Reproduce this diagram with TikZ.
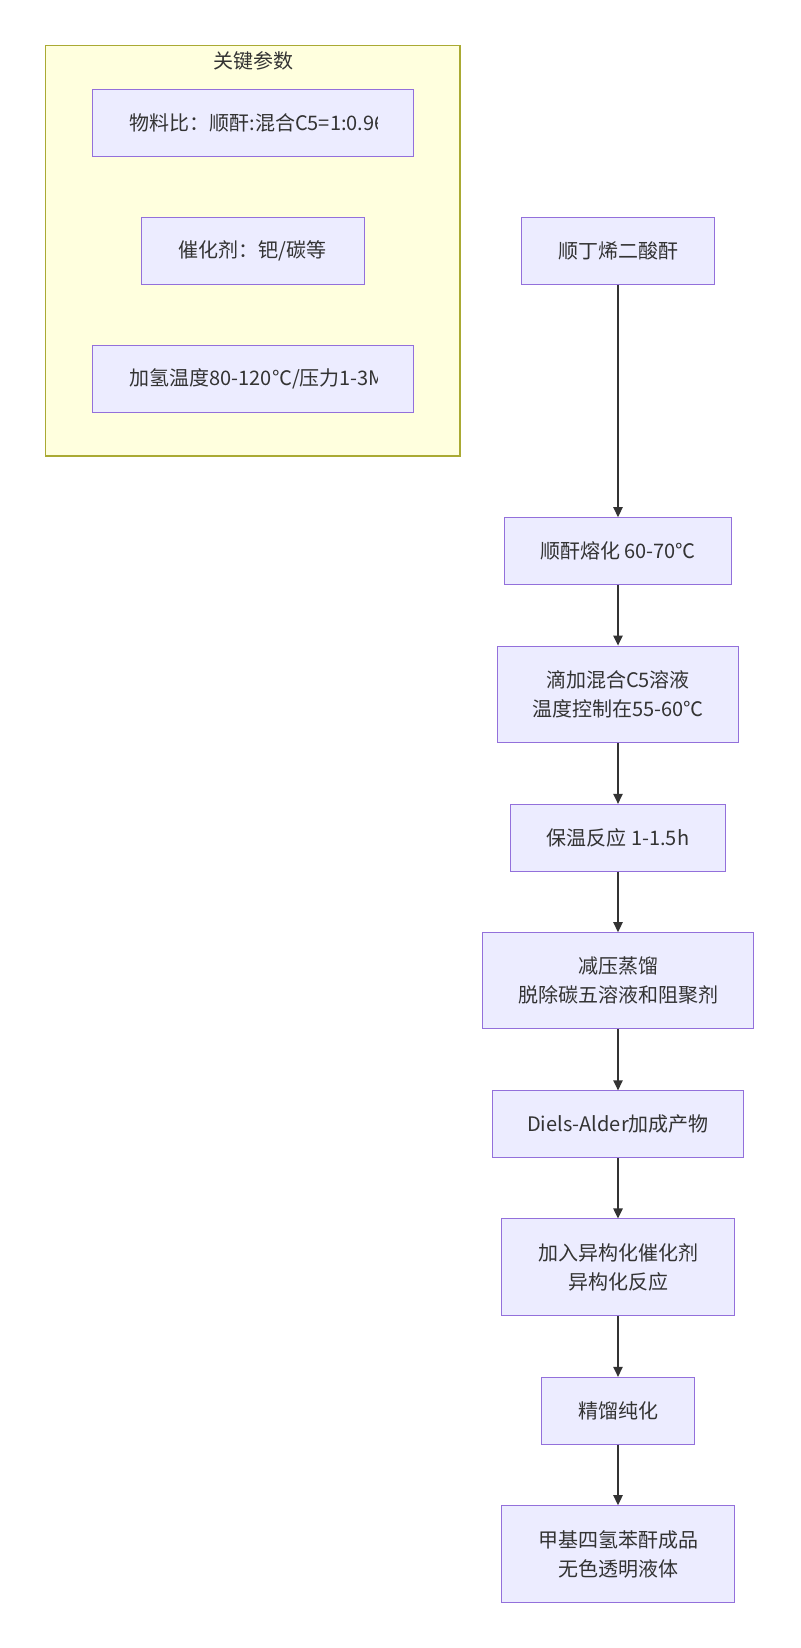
\documentclass[tikz,border=0pt]{standalone}
\usepackage{fontspec}
\setmainfont{Noto Sans CJK SC}
\usepackage{xcolor}
\usepackage{tikz}
\usetikzlibrary{arrows.meta}
\definecolor{bg}{HTML}{FFFFFF}
\definecolor{ink}{HTML}{333333}
\definecolor{stagebg}{HTML}{ECECFF}
\definecolor{stageline}{HTML}{9370DB}
\definecolor{groupbg}{HTML}{FFFFDE}
\definecolor{groupline}{HTML}{AAAA33}
\tikzset{
  stage/.style={draw=stageline, fill=stagebg, line width=0.75pt, text=ink, align=center, inner sep=0pt,
    font=\fontsize{15pt}{21.8pt}\selectfont},
  group/.style={draw=groupline, fill=groupbg, line width=0.8pt},
  flow/.style={draw=ink, line width=1.1pt, -{Triangle[length=7.5pt,width=7pt]}},
  lab/.style={text=ink, font=\fontsize{15pt}{21.8pt}\selectfont, inner sep=0pt},
}

\begin{document}
\begin{tikzpicture}[x=0.75pt,y=-0.75pt]
\useasboundingbox[fill=bg] (0,0) rectangle (800,1648);

% key parameters
\draw[group] (45.7,45.7) rectangle (460,456);
\node[lab] (keytitle) at (253,60.7) {关键参数};
\node[stage, minimum width=241pt, minimum height=50pt] (ratio) at (253,122.7) {};
\node[stage, minimum width=167.2pt, minimum height=50pt] (catal) at (252.8,251) {催化剂：钯/碳等};
\node[stage, minimum width=241pt, minimum height=50pt] (hydro) at (253,379.3) {};
\begin{scope}
  \clip (92,89) rectangle (377,156);
  \node[lab, anchor=west] (ratiotext) at (129.3,122.7) {物料比：顺酐:混合C5=1:0.96};
\end{scope}
\begin{scope}
  \clip (92,346) rectangle (377,413);
  \node[lab, anchor=west] (hydrotext) at (129.3,379.3) {加氢温度80-120℃/压力1-3M};
\end{scope}

% process
\node[stage, minimum width=144.5pt, minimum height=50pt] (maleic) at (618,251) {顺丁烯二酸酐};
\node[stage, minimum width=170.8pt, minimum height=50pt] (melt) at (618,551) {顺酐熔化 60-70℃};
\node[stage, minimum width=181pt, minimum height=72.2pt] (drip) at (618,694.2) {滴加混合C5溶液\\温度控制在55-60℃};
\node[stage, minimum width=161.8pt, minimum height=50pt] (hold) at (618,837.7) {保温反应 1-1.5h};
\node[stage, minimum width=203.8pt, minimum height=72.2pt] (distil) at (618,980.8) {减压蒸馏\\脱除碳五溶液和阻聚剂};
\node[stage, minimum width=187.7pt, minimum height=50pt] (adduct) at (618,1124.2) {Diels-Alder加成产物};
\node[stage, minimum width=174.2pt, minimum height=72.5pt] (isom) at (618,1267.3) {加入异构化催化剂\\异构化反应};
\node[stage, minimum width=115pt, minimum height=50pt] (rectify) at (618,1410.7) {精馏纯化};
\node[stage, minimum width=174.2pt, minimum height=72.5pt] (product) at (618,1554) {甲基四氢苯酐成品\\无色透明液体};

\draw[flow] (maleic) -- (melt);
\draw[flow] (melt) -- (drip);
\draw[flow] (drip) -- (hold);
\draw[flow] (hold) -- (distil);
\draw[flow] (distil) -- (adduct);
\draw[flow] (adduct) -- (isom);
\draw[flow] (isom) -- (rectify);
\draw[flow] (rectify) -- (product);
\end{tikzpicture}
\end{document}
